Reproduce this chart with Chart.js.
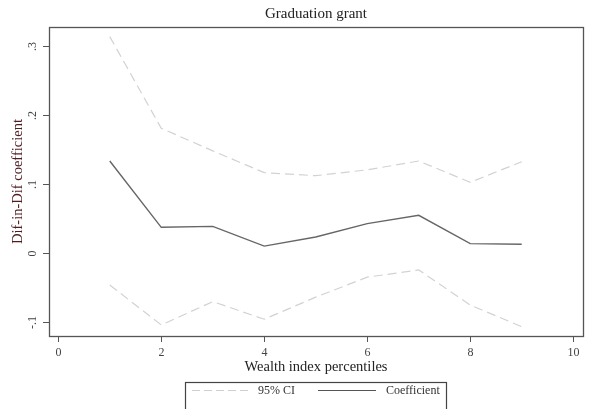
<!DOCTYPE html>
<html>
<head>
<meta charset="utf-8">
<script src="https://cdn.jsdelivr.net/npm/chart.js@4/dist/chart.umd.min.js"></script>
<style>
  html, body { margin: 0; padding: 0; background: #fff; }
  #wrap { width: 591px; height: 409px; }
</style>
</head>
<body>
<div id="wrap"><canvas id="c" width="591" height="409"></canvas></div>
<script>
// Wealth index percentile groups
const percentiles = [1, 2, 3, 4, 5, 6, 7, 8, 9];
// Difference-in-difference point estimates
const coefficient = [0.1333, 0.0372, 0.0386, 0.0100, 0.0232, 0.0425, 0.0546, 0.0135, 0.0126];
// 95% confidence bounds
const ciUpper = [0.3135, 0.1807, 0.1480, 0.1164, 0.1120, 0.1205, 0.1333, 0.1024, 0.1323];
const ciLower = [-0.0464, -0.1043, -0.0705, -0.0960, -0.0640, -0.0350, -0.0246, -0.0754, -0.1068];
// Axis ticks
const xTicks = [0, 2, 4, 6, 8, 10];
const yTicks = [0.3, 0.2, 0.1, 0, -0.1];
const yTickLabels = ['.3', '.2', '.1', '0', '-.1'];

const SERIF = '"Liberation Serif", "DejaVu Serif", serif';

const toPoints = (vals) => percentiles.map((x, i) => ({ x: x, y: vals[i] }));

// Draws the frame, tick marks, tick labels, titles and the legend box.
const stataDecor = {
  id: 'stataDecor',
  afterDraw(chart) {
    const ctx = chart.ctx;
    const a = chart.chartArea;
    const xs = chart.scales.x, ys = chart.scales.y;
    ctx.save();

    // plot frame
    ctx.strokeStyle = '#555';
    ctx.lineWidth = 1.3;
    ctx.strokeRect(a.left + 0.5, a.top + 0.5, a.right - a.left, a.bottom - a.top);

    // x ticks
    ctx.fillStyle = '#444';
    ctx.font = '12px ' + SERIF;
    ctx.textAlign = 'center';
    ctx.textBaseline = 'middle';
    ctx.lineWidth = 1;
    xTicks.forEach(v => {
      const px = Math.round(xs.getPixelForValue(v)) + 0.5;
      ctx.beginPath();
      ctx.moveTo(px, a.bottom);
      ctx.lineTo(px, a.bottom + 6);
      ctx.stroke();
      ctx.fillText(String(v), px, a.bottom + 17);
    });

    // y ticks, labels rotated
    yTicks.forEach((v, i) => {
      const py = Math.round(ys.getPixelForValue(v)) + 0.5;
      ctx.beginPath();
      ctx.moveTo(a.left, py);
      ctx.lineTo(a.left - 6, py);
      ctx.stroke();
      ctx.save();
      ctx.translate(a.left - 16, py);
      ctx.rotate(-Math.PI / 2);
      ctx.fillText(yTickLabels[i], 0, 0);
      ctx.restore();
    });

    // title
    ctx.fillStyle = '#222';
    ctx.font = '15px ' + SERIF;
    ctx.fillText('Graduation grant', (a.left + a.right) / 2, 14);

    // x axis title
    ctx.font = '14.5px ' + SERIF;
    ctx.fillText('Wealth index percentiles', (a.left + a.right) / 2, 367);

    // y axis title
    ctx.save();
    ctx.translate(18, (a.top + a.bottom) / 2);
    ctx.rotate(-Math.PI / 2);
    ctx.fillStyle = '#4f1c22';
    ctx.font = '14.5px ' + SERIF;
    ctx.fillText('Dif-in-Dif coefficient', 0, 0);
    ctx.restore();

    // legend
    ctx.strokeStyle = '#444';
    ctx.lineWidth = 1.2;
    ctx.strokeRect(185.5, 382.5, 261, 40);
    ctx.lineWidth = 1;
    ctx.strokeStyle = '#cfcfcf';
    ctx.setLineDash([8, 4]);
    ctx.beginPath();
    ctx.moveTo(192, 390.5);
    ctx.lineTo(252, 390.5);
    ctx.stroke();
    ctx.setLineDash([]);
    ctx.strokeStyle = '#555';
    ctx.beginPath();
    ctx.moveTo(318, 390.5);
    ctx.lineTo(376, 390.5);
    ctx.stroke();
    ctx.fillStyle = '#333';
    ctx.font = '12px ' + SERIF;
    ctx.textAlign = 'left';
    ctx.fillText('95% CI', 258, 391);
    ctx.fillText('Coefficient', 386, 391);

    ctx.restore();
  }
};

new Chart(document.getElementById('c'), {
  type: 'line',
  data: {
    datasets: [
      {
        label: '95% CI',
        data: toPoints(ciUpper),
        borderColor: '#d2d2d2',
        borderWidth: 1.2,
        borderDash: [9, 5],
        pointRadius: 0,
        tension: 0,
        fill: false
      },
      {
        label: '95% CI lower',
        data: toPoints(ciLower),
        borderColor: '#d2d2d2',
        borderWidth: 1.2,
        borderDash: [9, 5],
        pointRadius: 0,
        tension: 0,
        fill: false
      },
      {
        label: 'Coefficient',
        data: toPoints(coefficient),
        borderColor: '#666',
        borderWidth: 1.4,
        pointRadius: 0,
        tension: 0,
        fill: false
      }
    ]
  },
  options: {
    responsive: false,
    animation: false,
    devicePixelRatio: 1,
    layout: { padding: { left: 49, right: 8, top: 27, bottom: 73 } },
    plugins: { legend: { display: false }, tooltip: { enabled: false }, title: { display: false } },
    scales: {
      x: {
        type: 'linear',
        min: -0.18,
        max: 10.19,
        grid: { display: false },
        border: { display: false },
        ticks: { display: false },
        afterFit(scale) { scale.height = 0; }
      },
      y: {
        type: 'linear',
        min: -0.1203,
        max: 0.3275,
        grid: { display: false },
        border: { display: false },
        ticks: { display: false },
        afterFit(scale) { scale.width = 0; }
      }
    }
  },
  plugins: [stataDecor]
});
</script>
</body>
</html>
